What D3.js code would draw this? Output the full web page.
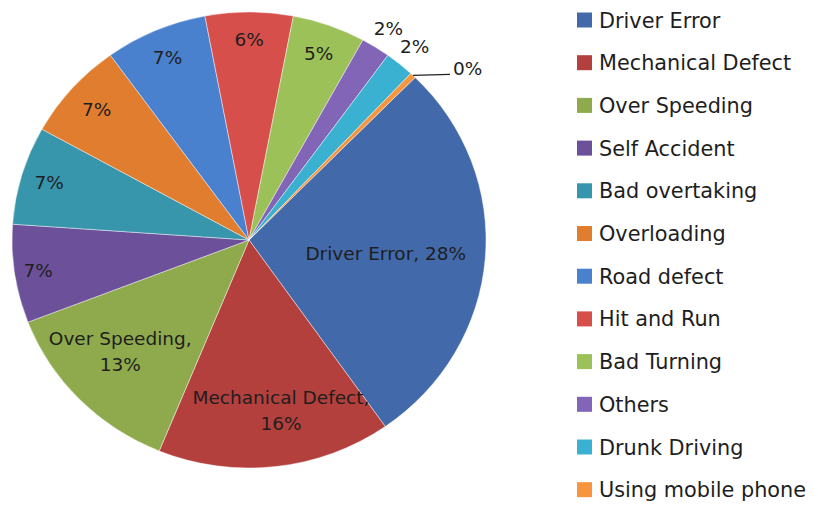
<!DOCTYPE html>
<html>
<head>
<meta charset="utf-8">
<script src="https://cdn.jsdelivr.net/npm/d3@7"></script>
<style>
  html, body { margin: 0; padding: 0; background: #fff; }
  svg { display: block; }
  text { font-family: "DejaVu Sans", sans-serif; fill: #1e1e1e; }
</style>
</head>
<body>
<svg id="chart" width="818" height="507"></svg>
<script>
// ---- data ----
const categories = ["Driver Error", "Mechanical Defect", "Over Speeding", "Self Accident",
  "Bad overtaking", "Overloading", "Road defect", "Hit and Run", "Bad Turning",
  "Others", "Drunk Driving", "Using mobile phone"];
const values = [28, 16, 13, 7, 7, 7, 7, 6, 5, 2, 2, 0.4];
const colors = ["#4269A9", "#B3403D", "#8EAA4C", "#6C519A", "#3795AC", "#E07D2F",
  "#4A81CE", "#D64F4B", "#9BC158", "#8365B7", "#3AB1D0", "#F7953F"];
// label layout (fraction of radius, small angular shift in degrees)
const labelRadius = [0.58, 0.76, 0.73, 0.9, 0.88, 0.86, 0.87, 0.88, 0.87, 1.1, 1.1, 1.0];
const labelShift = [1, -3.8, 2.5, 0, 0, 0, 0, 0, 0, 0, 0, 0];
const nameInLabel = [true, true, true, false, false, false, false, false, false, false, false, false];

const svg = d3.select("#chart");
const cx = 249, cy = 240, R = 237, ky = 0.962;
const total = d3.sum(values);
const pct = v => Math.round(v / total * 100) + "%";
const deg = Math.PI / 180;

const pie = d3.pie().sort(null).value(d => d.v)
  .startAngle(44.5 * deg).endAngle(44.5 * deg + 2 * Math.PI);
const data = categories.map((c, i) => ({ c, v: values[i], i }));
const arcs = pie(data);
const arc = d3.arc().innerRadius(0).outerRadius(R);

const g = svg.append("g").attr("transform", `translate(${cx},${cy}) scale(1,${ky})`);
g.selectAll("path").data(arcs).join("path")
  .attr("d", arc)
  .attr("fill", d => colors[d.data.i])
  .attr("stroke", "rgba(255,255,255,0.45)")
  .attr("stroke-width", 1);

// labels
const pos = (angle, r) => [cx + Math.sin(angle) * r, cy - Math.cos(angle) * r * ky];
const lab = svg.append("g").attr("font-size", 18.5);
arcs.forEach((d, i) => {
  const mid = (d.startAngle + d.endAngle) / 2 + labelShift[i] * deg;
  if (i === arcs.length - 1) {
    const p0 = pos(mid, R);
    const p1 = [p0[0] + 37, p0[1] - 1];
    svg.append("path").attr("d", d3.line()([p0, p1]))
      .attr("stroke", "#222").attr("stroke-width", 1.2).attr("fill", "none");
    lab.append("text").attr("x", p1[0] + 3).attr("y", p1[1] - 6).attr("dy", "0.35em")
      .text(pct(d.data.v));
    return;
  }
  const [x, y] = pos(mid, R * labelRadius[i]);
  const t = lab.append("text").attr("text-anchor", "middle");
  let lines;
  if (!nameInLabel[i]) lines = [pct(d.data.v)];
  else if (i === 0) lines = [d.data.c + ", " + pct(d.data.v)];
  else lines = [d.data.c + ",", pct(d.data.v)];
  const lh = 26;
  lines.forEach((s, k) => {
    t.append("tspan").attr("x", x)
      .attr("y", y + (k - (lines.length - 1) / 2) * lh)
      .attr("dy", "0.35em").text(s);
  });
});

// legend
const leg = svg.append("g").attr("transform", "translate(577,20)");
const rowH = 42.7;
const item = leg.selectAll("g").data(categories).join("g")
  .attr("transform", (d, i) => `translate(0,${i * rowH})`);
item.append("rect").attr("x", 0).attr("y", -7.5).attr("width", 15).attr("height", 15)
  .attr("fill", (d, i) => colors[i]);
item.append("text").attr("x", 22).attr("y", 0).attr("dy", "0.36em")
  .attr("font-size", 20.8).text(d => d);
</script>
</body>
</html>
